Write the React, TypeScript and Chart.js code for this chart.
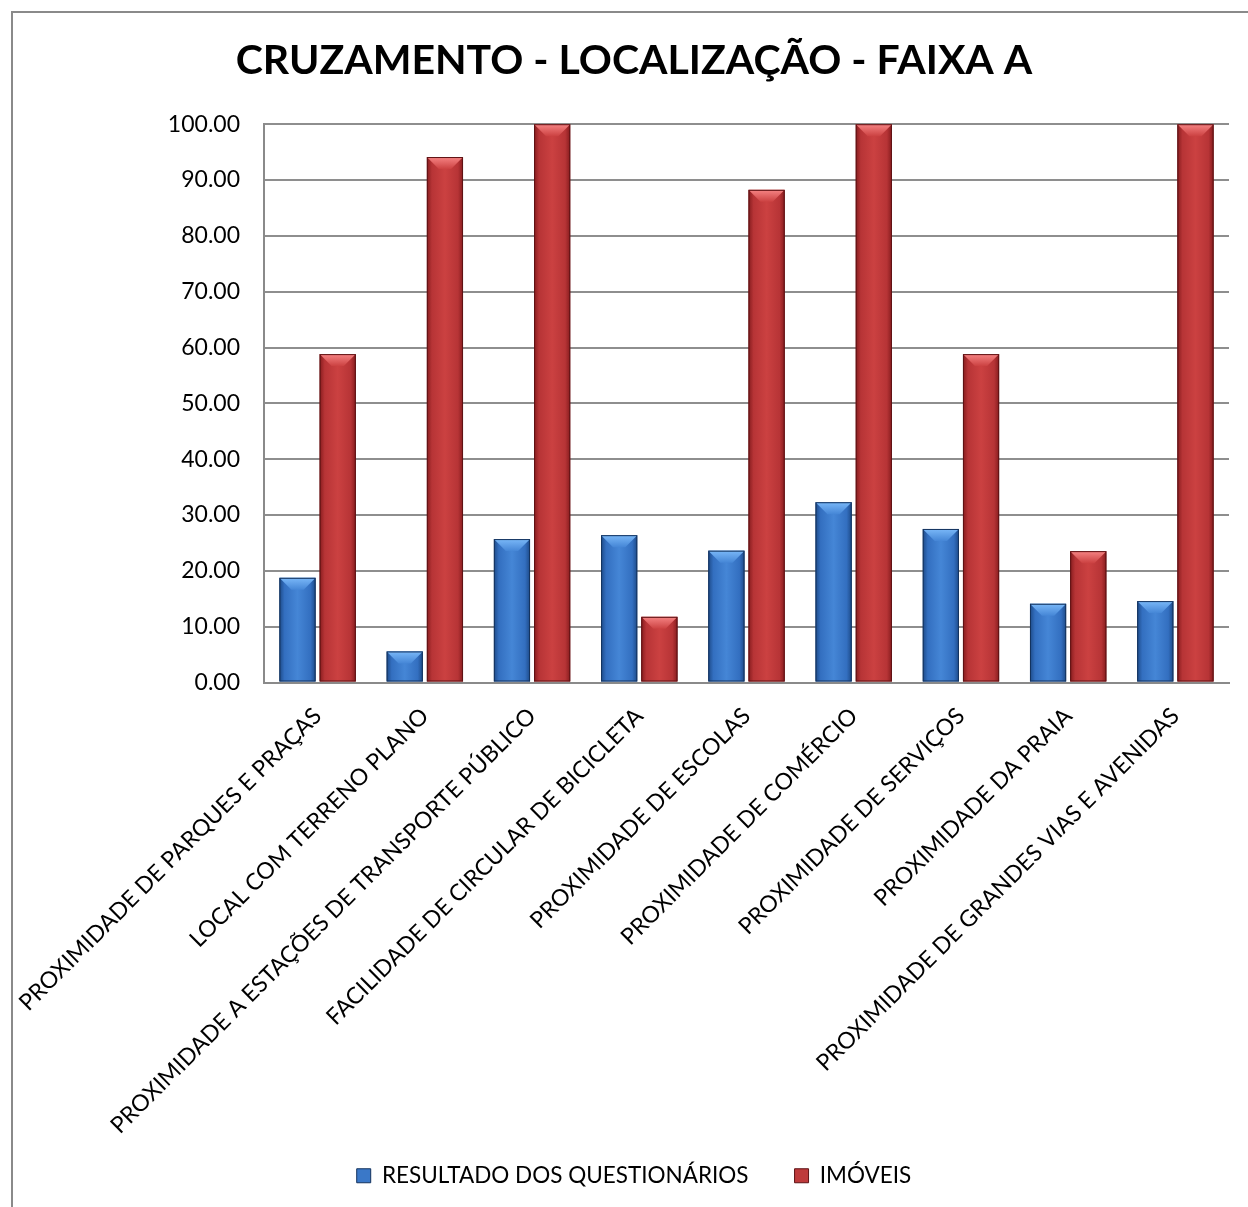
import React, { useEffect, useRef } from 'react';
import { Chart, registerables } from 'chart.js';

Chart.register(...registerables);

const chartTitle = 'CRUZAMENTO - LOCALIZAÇÃO - FAIXA A';
const categories = [
  'PROXIMIDADE DE PARQUES E PRAÇAS',
  'LOCAL COM TERRENO PLANO',
  'PROXIMIDADE A ESTAÇÕES DE TRANSPORTE PÚBLICO',
  'FACILIDADE DE CIRCULAR DE BICICLETA',
  'PROXIMIDADE DE ESCOLAS',
  'PROXIMIDADE DE COMÉRCIO',
  'PROXIMIDADE DE SERVIÇOS',
  'PROXIMIDADE DA PRAIA',
  'PROXIMIDADE DE GRANDES VIAS E AVENIDAS',
];
const seriesNames = ['RESULTADO DOS QUESTIONÁRIOS', 'IMÓVEIS'];
const questionarios = [18.75, 5.56, 25.69, 26.39, 23.61, 32.29, 27.5, 14.1, 14.58];
const imoveis = [58.82, 94.12, 100, 11.76, 88.24, 100, 58.82, 23.53, 100];
const yMin = 0;
const yMax = 100;
const yStep = 10;

const palettes = [
  { edge: '#1d4a88', mid: '#336fc0', center: '#4586d6', top: '#7ab8f8', border: '#14335e', base: '#3a78c8' },
  { edge: '#861c1e', mid: '#b73436', center: '#cb4141', top: '#f68484', border: '#5e1214', base: '#be3a3b' },
];

const FONT = 'Lato, "Open Sans", sans-serif';

const framePlugin = {
  id: 'frame',
  beforeDraw(chart: any) {
    const { ctx, width, height } = chart;
    // let the rotated category labels run past the axis box
    if (chart.scales && chart.scales.x) {
      chart.scales.x._computeLabelArea = () => undefined;
    }
    ctx.save();
    ctx.fillStyle = '#ffffff';
    ctx.fillRect(0, 0, width, height);
    ctx.strokeStyle = '#8a8a8a';
    ctx.lineWidth = 2;
    ctx.beginPath();
    ctx.moveTo(12, height);
    ctx.lineTo(12, 12);
    ctx.lineTo(width, 12);
    ctx.stroke();
    ctx.restore();
  },
};

const bevelPlugin = {
  id: 'bevel',
  afterDatasetsDraw(chart: any) {
    const ctx = chart.ctx;
    ctx.save();
    chart.data.datasets.forEach((_ds: any, di: number) => {
      const meta = chart.getDatasetMeta(di);
      const pal = palettes[di];
      meta.data.forEach((bar: any) => {
        const { x, y, base, width } = bar.getProps(['x', 'y', 'base', 'width'], true);
        const l = x - width / 2;
        const r = x + width / 2;
        const h = base - y;
        const g = ctx.createLinearGradient(l, 0, r, 0);
        g.addColorStop(0, pal.edge);
        g.addColorStop(0.14, pal.mid);
        g.addColorStop(0.5, pal.center);
        g.addColorStop(0.86, pal.mid);
        g.addColorStop(1, pal.edge);
        ctx.fillStyle = g;
        ctx.fillRect(l, y, width, h);
        const b = Math.min(12, h / 2);
        const tg = ctx.createLinearGradient(0, y, 0, y + b);
        tg.addColorStop(0, pal.top);
        tg.addColorStop(1, pal.center);
        ctx.fillStyle = tg;
        ctx.beginPath();
        ctx.moveTo(l, y);
        ctx.lineTo(r, y);
        ctx.lineTo(r - b, y + b);
        ctx.lineTo(l + b, y + b);
        ctx.closePath();
        ctx.fill();
        ctx.strokeStyle = pal.border;
        ctx.lineWidth = 1;
        ctx.strokeRect(l + 0.5, y + 0.5, width - 1, h - 1);
      });
    });
    ctx.restore();
  },
};

export default function App() {
  const ref = useRef<HTMLCanvasElement>(null);
  useEffect(() => {
    if (!ref.current) return;
    const chart = new Chart(ref.current, {
      type: 'bar',
      data: {
        labels: categories,
        datasets: [
          {
            label: seriesNames[0],
            data: questionarios,
            backgroundColor: palettes[0].base,
            borderColor: palettes[0].border,
            borderWidth: 1,
            categoryPercentage: 0.75,
            barPercentage: 0.9,
          },
          {
            label: seriesNames[1],
            data: imoveis,
            backgroundColor: palettes[1].base,
            borderColor: palettes[1].border,
            borderWidth: 1,
            categoryPercentage: 0.75,
            barPercentage: 0.9,
          },
        ],
      },
      options: {
        animation: false,
        responsive: false,
        maintainAspectRatio: false,
        layout: { padding: { left: 20, right: 0, top: 0, bottom: 10 } },
        plugins: {
          title: {
            display: true,
            text: chartTitle,
            color: '#000',
            font: { family: FONT, size: 41, weight: 'bold' },
            padding: { top: 36, bottom: 39 },
          },
          legend: {
            position: 'bottom',
            labels: {
              color: '#000',
              font: { family: FONT, size: 22.5 },
              boxWidth: 14,
              boxHeight: 14,
              padding: 46,
            },
          },
          tooltip: { enabled: false },
        },
        scales: {
          x: {
            grid: { display: false },
            border: { display: true, color: '#8a8a8a', width: 2 },
            ticks: {
              color: '#000',
              font: { family: FONT, size: 23 },
              maxRotation: 45,
              minRotation: 45,
              autoSkip: false,
              padding: 12,
            },
            afterFit(scale: any) {
              scale.height = 436;
              scale.paddingLeft = 0;
              scale.paddingRight = 19;
            },
          },
          y: {
            min: yMin,
            max: yMax,
            grid: { color: '#8e8e8e', lineWidth: 2, drawTicks: false },
            border: { display: true, color: '#8a8a8a', width: 2 },
            ticks: {
              stepSize: yStep,
              color: '#000',
              font: { family: FONT, size: 23 },
              padding: 24,
              callback: (v: any) => Number(v).toFixed(2),
            },
            afterFit(scale: any) {
              scale.width = 244;
              scale.paddingTop = 0;
              scale.paddingBottom = 0;
            },
          },
        },
      },
      plugins: [framePlugin, bevelPlugin],
    });
    return () => chart.destroy();
  }, []);
  return (
    <div style={{ position: 'absolute', left: 0, top: 0, width: 1248, height: 1207 }}>
      <canvas ref={ref} width={1248} height={1207} style={{ display: 'block' }} />
    </div>
  );
}
